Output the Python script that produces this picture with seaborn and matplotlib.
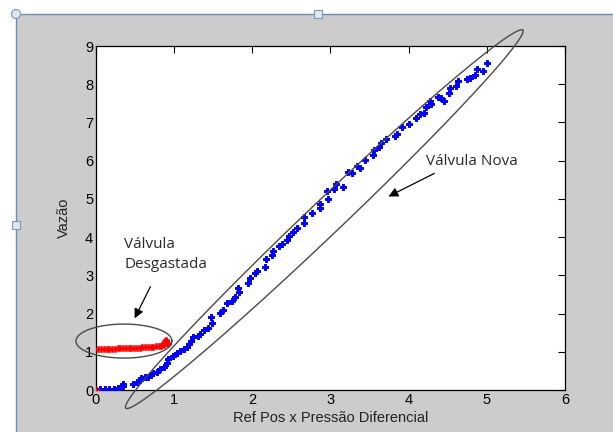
import numpy as np
import pandas as pd
import matplotlib
matplotlib.use('Agg')
import matplotlib.pyplot as plt
from matplotlib.patches import Rectangle, Ellipse
import seaborn as sns

# valvula nova (azul)
nova_x = [0.0, 0.05, 0.115, 0.17, 0.23, 0.285, 0.34, 0.35, 0.47, 0.52, 0.56, 0.58, 0.63, 0.67, 0.70,
          0.73, 0.78, 0.82, 0.87, 0.91, 0.925, 0.99, 1.04, 1.08, 1.12, 1.16, 1.19, 1.22, 1.24, 1.30,
          1.33, 1.38, 1.43, 1.48, 1.47, 1.58, 1.63, 1.67, 1.74, 1.78, 1.83, 1.82, 1.95, 1.97, 2.03,
          2.06, 2.16, 2.17, 2.25, 2.27, 2.34, 2.38, 2.44, 2.47, 2.52, 2.57, 2.66, 2.66, 2.76, 2.87,
          2.86, 2.97, 2.95, 3.04, 3.07, 3.16, 3.23, 3.27, 3.34, 3.38, 3.44, 3.55, 3.56, 3.62, 3.65,
          3.71, 3.82, 3.85, 3.92, 4.01, 4.09, 4.14, 4.19, 4.22, 4.28, 4.27, 4.37, 4.42, 4.45, 4.52,
          4.53, 4.61, 4.63, 4.75, 4.78, 4.85, 4.87, 4.95, 5.00]
nova_y = [0.0, 0.02, 0.02, 0.02, 0.03, 0.04, 0.10, 0.17, 0.15, 0.20, 0.26, 0.31, 0.33, 0.35, 0.38,
          0.44, 0.48, 0.54, 0.61, 0.70, 0.80, 0.89, 0.96, 1.03, 1.06, 1.13, 1.20, 1.27, 1.38, 1.41,
          1.47, 1.57, 1.62, 1.76, 1.90, 2.02, 2.09, 2.28, 2.34, 2.44, 2.57, 2.66, 2.79, 2.92, 3.05,
          3.12, 3.23, 3.42, 3.53, 3.64, 3.77, 3.82, 3.92, 4.03, 4.14, 4.25, 4.36, 4.53, 4.64, 4.75,
          4.87, 5.00, 5.21, 5.25, 5.39, 5.32, 5.71, 5.67, 5.86, 5.80, 6.03, 6.15, 6.28, 6.35, 6.47,
          6.56, 6.64, 6.71, 6.89, 6.96, 7.11, 7.22, 7.26, 7.40, 7.48, 7.57, 7.66, 7.63, 7.57, 7.78,
          7.89, 7.95, 8.09, 8.13, 8.15, 8.24, 8.39, 8.35, 8.56]

# valvula desgastada (vermelho)
desg_x = [0.0, 0.03, 0.07, 0.10, 0.14, 0.17, 0.21, 0.24, 0.28, 0.31, 0.35, 0.38, 0.42, 0.45, 0.49,
          0.52, 0.56, 0.59, 0.63, 0.66, 0.70, 0.73, 0.77, 0.80, 0.83, 0.85, 0.87, 0.88, 0.89, 0.90,
          0.91, 0.92, 0.88, 0.90]
desg_y = [0.0, 1.06, 1.06, 1.07, 1.07, 1.08, 1.08, 1.08, 1.09, 1.09, 1.09, 1.10, 1.10, 1.10, 1.11,
          1.11, 1.11, 1.12, 1.12, 1.12, 1.13, 1.13, 1.14, 1.14, 1.15, 1.17, 1.19, 1.22, 1.25, 1.27,
          1.24, 1.21, 1.27, 1.30]

xticks = [0, 1, 2, 3, 4, 5, 6]
yticks = [0, 1, 2, 3, 4, 5, 6, 7, 8, 9]

df_nova = pd.DataFrame({'x': nova_x, 'y': nova_y})
df_desg = pd.DataFrame({'x': desg_x, 'y': desg_y})

sns.set_style('white')
plt.rcParams['font.family'] = ['Liberation Sans', 'DejaVu Sans']

fig = plt.figure(figsize=(6.13, 4.32), dpi=100, facecolor='white')
W, H = 613, 432

# fundo cinza da janela + borda da selecao
fig.patches.append(Rectangle((16 / W, 0), 1 - 16 / W, 1 - 14 / H, transform=fig.transFigure,
                             facecolor='#cccccc', edgecolor='none', zorder=-10))
fig.lines.append(plt.Line2D([16 / W, 16 / W], [0, 1 - 14 / H], transform=fig.transFigure,
                            color='#6f8db0', lw=1, zorder=-5))
fig.lines.append(plt.Line2D([16 / W, 1], [1 - 14 / H, 1 - 14 / H], transform=fig.transFigure,
                            color='#6f8db0', lw=1, zorder=-5))
for hx, hy in [(318, 14), (16, 225)]:
    fig.patches.append(Rectangle(((hx - 4) / W, 1 - (hy + 4) / H), 8 / W, 8 / H,
                                 transform=fig.transFigure, facecolor='#dde8f4',
                                 edgecolor='#7a98bb', lw=0.8, zorder=-4))
fig.patches.append(Ellipse((16 / W, 1 - 14 / H), 9 / W, 9 / H, transform=fig.transFigure,
                           facecolor='#dde8f4', edgecolor='#7a98bb', lw=0.8, zorder=-4))

ax = fig.add_axes([96 / W, 42 / H, 469 / W, 344 / H])
ax.set_facecolor('white')

sns.scatterplot(data=df_nova, x='x', y='y', ax=ax, color='#0000ff', marker='P', s=24,
                edgecolor='#0000ff', linewidth=0.7, zorder=3)
sns.scatterplot(data=df_desg, x='x', y='y', ax=ax, color='#ff0000', marker='P', s=18,
                edgecolor='#ff0000', linewidth=0.4, zorder=4)

ax.set_xlim(0, 6)
ax.set_ylim(0, 9)
ax.set_xticks(xticks)
ax.set_yticks(yticks)
ax.tick_params(direction='in', top=True, right=True, length=5, width=0.8,
               labelsize=10.5, colors='black', pad=2)
for s in ax.spines.values():
    s.set_visible(True)
    s.set_color('black')
    s.set_linewidth(0.9)
ax.set_xlabel('Ref Pos x Pressão Diferencial', fontsize=10.5, labelpad=3, color='#222222')
ax.set_ylabel('Vazão', fontsize=10.5, labelpad=10, color='#222222')

# elipses (parametrica, em pixels convertidos para dados)
t = np.linspace(0, 2 * np.pi, 300)
sx, sy = 78.17, 38.22
cx, cy = 2.92, 4.47
ex = cx + (198.5 / sx) * np.cos(t) + (11.7 / sx) * np.sin(t)
ey = cy + (189 / sy) * np.cos(t) - (12.3 / sy) * np.sin(t)
ax.plot(ex, ey, color='#4a4a4a', lw=1, clip_on=False, zorder=5)

ex2 = 0.358 + 0.614 * np.cos(t)
ey2 = 1.28 + 0.445 * np.sin(t)
ax.plot(ex2, ey2, color='#4a4a4a', lw=1, clip_on=False, zorder=5)

arrow = dict(arrowstyle='-|>', color='black', lw=0.9, mutation_scale=14)
ax.annotate('', xy=(0.478, 1.81), xytext=(0.712, 2.77), arrowprops=arrow)
ax.annotate('', xy=(3.71, 5.03), xytext=(4.36, 5.70), arrowprops=arrow)

ax.text(0.36, 4.0, 'Válvula\nDesgastada', fontsize=11, family=['Open Sans', 'DejaVu Sans'],
        color='#2a2a2a', va='top', ha='left', linespacing=1.45)
ax.text(4.22, 5.97, 'Válvula Nova', fontsize=11, family=['Open Sans', 'DejaVu Sans'],
        color='#2a2a2a', va='center', ha='left')

plt.savefig('out.png', dpi=100, facecolor=fig.get_facecolor())
